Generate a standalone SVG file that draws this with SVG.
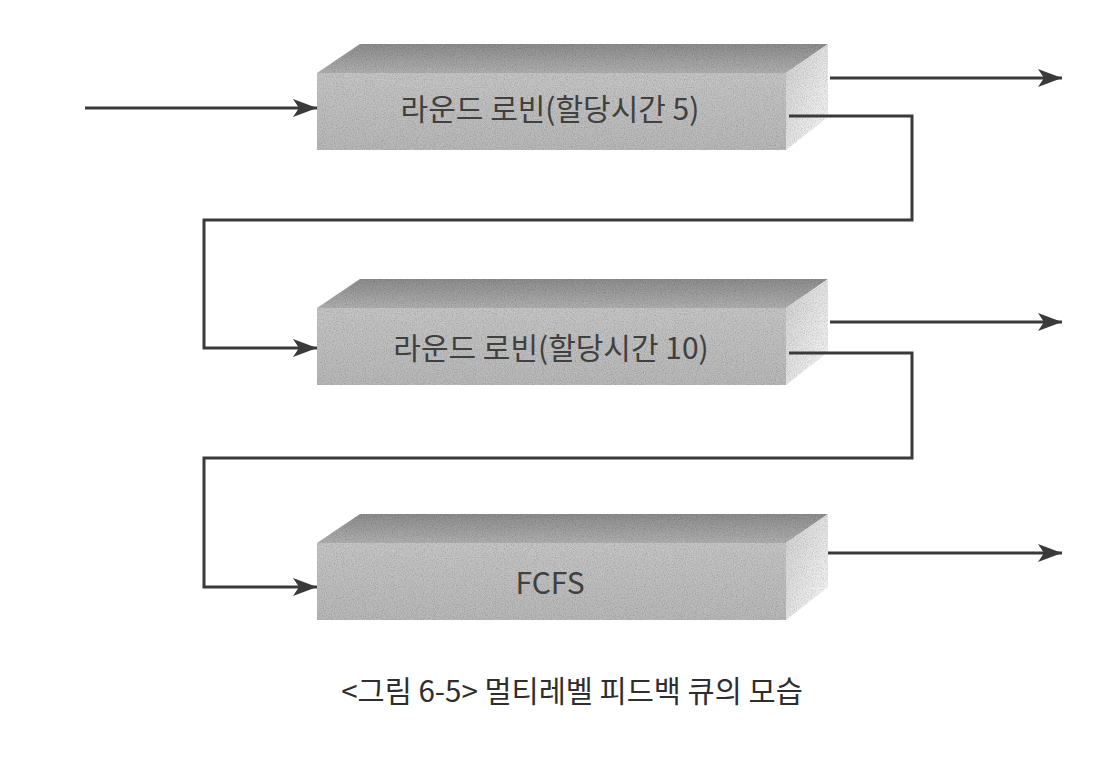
<svg xmlns="http://www.w3.org/2000/svg" width="1116" height="758" viewBox="0 0 1116 758">
  <style>
    .lbl { font-family: "Noto Sans CJK KR", "Noto Sans", sans-serif; font-size: 30px; fill: #404040; text-anchor: middle; dominant-baseline: central; }
    .cap { font-family: "Noto Sans CJK KR", "Noto Sans", sans-serif; font-size: 29.5px; fill: #2e2e2e; text-anchor: middle; }
    .wire { fill: none; stroke: #3a3a3a; stroke-width: 3; stroke-linejoin: miter; }
    .arr { marker-end: url(#ah); }
  </style>
  <defs>
    <marker id="ah" markerUnits="userSpaceOnUse" markerWidth="30" markerHeight="24" viewBox="-25 -12 30 24" refX="0" refY="0" orient="auto">
      <path d="M0,0 L-24,-9 L-18,0 L-24,9 Z" fill="#3a3a3a"/>
    </marker>
    <linearGradient id="gTop" x1="0" y1="0" x2="0" y2="1">
      <stop offset="0" stop-color="#8e8e8e"/>
      <stop offset="1" stop-color="#b0b0b0"/>
    </linearGradient>
    <linearGradient id="gFront" x1="0" y1="0" x2="0" y2="1">
      <stop offset="0" stop-color="#c6c6c6"/>
      <stop offset="1" stop-color="#b9b9b9"/>
    </linearGradient>
    <linearGradient id="gSide" x1="0" y1="0" x2="1" y2="1">
      <stop offset="0" stop-color="#d0d0d0"/>
      <stop offset="1" stop-color="#fafafa"/>
    </linearGradient>
    <filter id="grain" x="0" y="0" width="100%" height="100%">
      <feTurbulence type="fractalNoise" baseFrequency="0.9" numOctaves="2" seed="4" result="n"/>
      <feColorMatrix in="n" type="matrix" values="0 0 0 0 0  0 0 0 0 0  0 0 0 0 0  0.7 0 0 0 -0.27" result="dots"/>
      <feComposite in="dots" in2="SourceGraphic" operator="in" result="d2"/>
      <feMerge><feMergeNode in="SourceGraphic"/><feMergeNode in="d2"/></feMerge>
    </filter>
    <g id="box">
      <polygon points="317,0 360,-29 828,-29 786,0" fill="url(#gTop)"/>
      <rect x="317" y="0" width="469" height="77" fill="url(#gFront)"/>
      <polygon points="786,0 828,-29 828,44 786,77" fill="url(#gSide)"/>
    </g>
  </defs>

  <g id="node-rr5">
    <use href="#box" transform="translate(0,73)" filter="url(#grain)"/>
    <text class="lbl" x="550" y="107">라운드 로빈(할당시간 5)</text>
  </g>

  <g id="node-rr10">
    <use href="#box" transform="translate(0,308)" filter="url(#grain)"/>
    <text class="lbl" x="551" y="346">라운드 로빈(할당시간 10)</text>
  </g>

  <g id="node-fcfs">
    <use href="#box" transform="translate(0,543)" filter="url(#grain)"/>
    <text class="lbl" x="550" y="581">FCFS</text>
  </g>

  <g id="connectors">
    <path class="wire arr" d="M85,108 L317,108"/>
    <path class="wire arr" d="M830,78 L1062,78"/>
    <path class="wire arr" d="M789,116 L912,116 L912,220 L204,220 L204,348 L317,348"/>
    <path class="wire arr" d="M830,322 L1062,322"/>
    <path class="wire arr" d="M789,353 L912,353 L912,458 L204,458 L204,587 L317,587"/>
    <path class="wire arr" d="M828,553 L1062,553"/>
  </g>

  <g id="caption">
    <text class="cap" x="572" y="702">&lt;그림 6-5&gt; 멀티레벨 피드백 큐의 모습</text>
  </g>
</svg>
